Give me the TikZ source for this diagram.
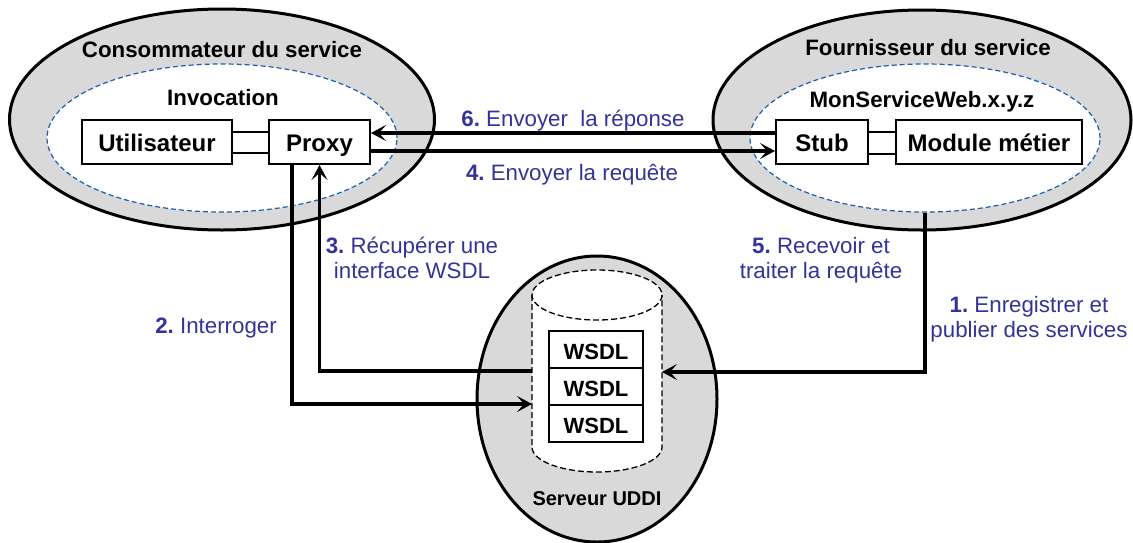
\documentclass[tikz,border=0pt]{standalone}
\usepackage{fontspec}
\setmainfont{Liberation Sans}
\usetikzlibrary{shapes.geometric,arrows.meta}
\definecolor{lblue}{RGB}{51,51,153}
\definecolor{dblue}{RGB}{30,95,170}
\definecolor{shade}{RGB}{217,217,217}
\frenchspacing
\tikzset{
  outer/.style={ellipse, draw=black, line width=3pt, fill=shade, inner sep=0pt},
  inner/.style={ellipse, draw=dblue, dashed, dash pattern=on 5pt off 3pt, line width=1.2pt, fill=white, inner sep=0pt},
  box/.style={draw=black, line width=2pt, fill=white, inner sep=0pt, text height=19.4pt, text depth=0pt, font=\fontsize{24}{28}\selectfont\bfseries},
  wsdl/.style={draw=black, line width=2pt, fill=white, inner sep=0pt, minimum width=94pt, minimum height=37pt, text height=21pt, text depth=0pt, font=\fontsize{22}{26}\selectfont\bfseries},
  title/.style={font=\fontsize{22.3}{26}\selectfont\bfseries, inner sep=0pt},
  lbl/.style={text=lblue, font=\fontsize{22.3}{25}\selectfont, align=center, inner sep=0pt},
  arr/.style={line width=3.5pt, -{Stealth[length=15pt, width=16pt, inset=7pt]}},
  link/.style={line width=2.5pt},
  cyl/.style={draw=black, dashed, dash pattern=on 6pt off 3pt, line width=1.3pt}
}
\begin{document}
\begin{tikzpicture}[x=1pt, y=-1pt]
\useasboundingbox (0,0) rectangle (1133,542);
% outer ellipses
\node[outer, minimum width=425pt, minimum height=221pt] (cons) at (222,119.5) {};
\node[outer, minimum width=418pt, minimum height=220pt] (four) at (922,120) {};
\node[outer, minimum width=240pt, minimum height=286pt] (uddi) at (597,399) {};
% inner ellipses
\node[inner, minimum width=350pt, minimum height=148pt] (cin) at (222,138) {};
\node[inner, minimum width=350pt, minimum height=148pt] (fin) at (925,138) {};
% titles
\node[title] (tcons) at (222,50) {Consommateur du service};
\node[title] (tfour) at (928,48) {Fournisseur du service};
\node[title] (tinv) at (223,98) {Invocation};
\node[title] (tmsw) at (922,102) {MonServiceWeb.x.y.z};
\node[title, font=\fontsize{20}{24}\selectfont\bfseries] (tuddi) at (597,499) {Serveur UDDI};
% boxes
\node[box, minimum width=150pt, minimum height=44pt] (util) at (157,142) {Utilisateur};
\node[box, minimum width=101pt, minimum height=44pt] (proxy) at (319.5,142) {Proxy};
\node[box, minimum width=92pt, minimum height=44pt] (stub) at (822,142) {Stub};
\node[box, minimum width=186pt, minimum height=44pt] (module) at (989,142) {Module métier};
% box links
\draw[link] (util.east |- 0,132) -- (proxy.west |- 0,132);
\draw[link] (util.east |- 0,153) -- (proxy.west |- 0,153);
\draw[link] (stub.east |- 0,132) -- (module.west |- 0,132);
\draw[link] (stub.east |- 0,154) -- (module.west |- 0,154);
% cylinder
\fill[white] (532,295) -- (532,447) arc[start angle=180, end angle=0, x radius=65, y radius=25] -- (662,295) arc[start angle=0, end angle=-180, x radius=65, y radius=25] -- cycle;
\draw[cyl] (532,295) -- (532,447) arc[start angle=180, end angle=0, x radius=65, y radius=25] -- (662,295);
\draw[cyl] (597,295) ellipse[x radius=65, y radius=25];
\coordinate (cylL) at (532,388);
\coordinate (cylR) at (662,388);
% WSDL boxes
\node[wsdl] (w1) at (596,349) {WSDL};
\node[wsdl] (w2) at (596,386) {WSDL};
\node[wsdl] (w3) at (596,423) {WSDL};
% arrows between proxy and stub
\draw[arr] (stub.west |- 0,133) -- (proxy.east |- 0,133);
\draw[arr] (proxy.east |- 0,151) -- (stub.west |- 0,151);
% arrows to/from UDDI
\draw[arr] ([xshift=-27.5pt]proxy.south) |- (cylL |- 0,404);
\draw[arr] (cylL |- 0,371) -| (proxy.south);
\draw[arr] (fin.south) |- (cylR |- 0,372);
% labels
\node[lbl] (l6) at (573,121) {\textbf{6.} Envoyer\ \ la réponse};
\node[lbl] (l4) at (572,175) {\textbf{4.} Envoyer la requête};
\node[lbl] (l3) at (412,258) {\textbf{3.} Récupérer une\\interface WSDL};
\node[lbl] (l2) at (216,328) {\textbf{2.} Interroger};
\node[lbl] (l5) at (821,260) {\textbf{5.} Recevoir et\\traiter la requête};
\node[lbl] (l1) at (1029,319) {\textbf{1.} Enregistrer et\\publier des services};
\end{tikzpicture}
\end{document}
